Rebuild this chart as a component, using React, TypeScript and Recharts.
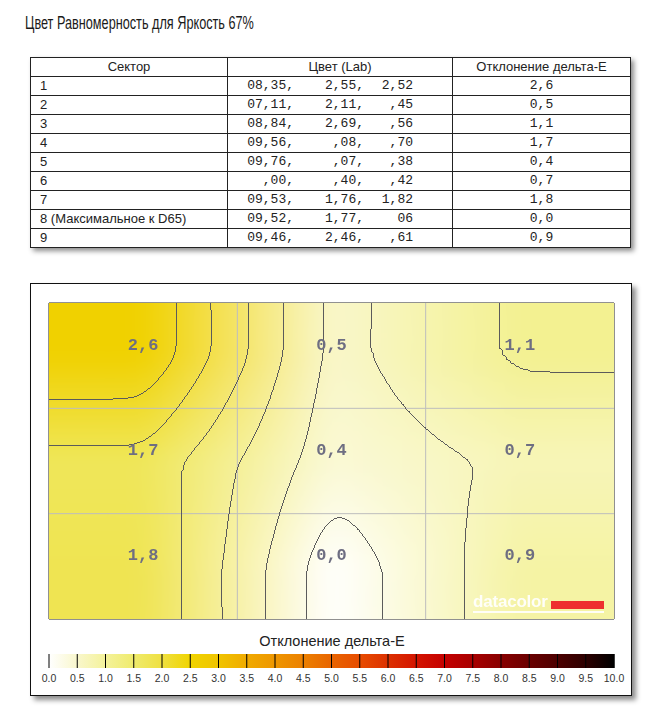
import React from 'react';
import { ScatterChart, Scatter, XAxis, YAxis, ReferenceArea } from 'recharts';

const TITLE = 'Цвет Равномерность для Яркость 67%';
const TABLE_HEADERS = ['Сектор', 'Цвет (Lab)', 'Отклонение дельта-E'];
const SECTORS = ['1', '2', '3', '4', '5', '6', '7', '8 (Максимальное к D65)', '9'];
const LAB_L = ['08,35,', '07,11,', '08,84,', '09,56,', '09,76,', ',00,', '09,53,', '09,52,', '09,46,'];
const LAB_A = ['2,55,', '2,11,', '2,69,', ',08,', ',07,', ',40,', '1,76,', '1,77,', '2,46,'];
const LAB_B = ['2,52', ',45', ',56', ',70', ',38', ',42', '1,82', '06', ',61'];
const DELTA_E = [2.6, 0.5, 1.1, 1.7, 0.4, 0.7, 1.8, 0.0, 0.9];
const GRID_COLS = 3;
const GRID_ROWS = 3;
const LEGEND_TITLE = 'Отклонение дельта-E';
const LEGEND_TICKS = [0, 0.5, 1, 1.5, 2, 2.5, 3, 3.5, 4, 4.5, 5, 5.5, 6, 6.5, 7, 7.5, 8, 8.5, 9, 9.5, 10];
const SCALE_COLORS = [
  '#ffffff', '#f9f7cc', '#f4f29a', '#efeb6c', '#efe040', '#f0d400', '#f0c400',
  '#f0aa00', '#ee9600', '#ec8000', '#e86400', '#e84c00', '#dc3000', '#d41400',
  '#c40000', '#a80000', '#880000', '#6a0000', '#4c0000', '#2c0000', '#000000',
];
const WATERMARK = 'datacolor';

const SANS = "'Liberation Sans', Arial, sans-serif";
const MONO = "'Liberation Mono', 'Courier New', monospace";

const fmtComma = (v: number) => v.toFixed(1).replace('.', ',');

const hexToRgb = (h: string) => [1, 3, 5].map((i) => parseInt(h.slice(i, i + 2), 16));
const colorFor = (v: number) => {
  const t = Math.max(0, Math.min(10, v)) / 0.5;
  const i = Math.min(SCALE_COLORS.length - 2, Math.floor(t));
  const f = t - i;
  const a = hexToRgb(SCALE_COLORS[i]);
  const b = hexToRgb(SCALE_COLORS[i + 1]);
  const c = a.map((x, k) => Math.round(x + (b[k] - x) * f));
  return `rgb(${c[0]},${c[1]},${c[2]})`;
};
// value encoded as gray: contour levels (~0.23, 0.63, ... 2.23) fall on k/7
const grayFor = (v: number) => {
  const g = Math.round(Math.max(0, Math.min(1, (v + 0.17) / 2.8)) * 255);
  return `rgb(${g},${g},${g})`;
};

const cellValue = (r: number, c: number) => DELTA_E[r * GRID_COLS + c];
const cells = DELTA_E.map((v, i) => ({
  x: (i % GRID_COLS) + 0.5,
  y: Math.floor(i / GRID_COLS) + 0.5,
  v,
}));

// patches spanning between neighbouring cell centres (edges hold the edge cell value)
const clampI = (i: number, n: number) => Math.max(0, Math.min(n - 1, i));
const xb = [0, ...cells.slice(0, GRID_COLS).map((c) => c.x), GRID_COLS];
const yb = [0, ...cells.filter((_, i) => i % GRID_COLS === 0).map((c) => c.y), GRID_ROWS];
const patches: any[] = [];
for (let qj = 0; qj < yb.length - 1; qj++) {
  for (let qi = 0; qi < xb.length - 1; qi++) {
    const cl = clampI(qi - 1, GRID_COLS);
    const cr = clampI(qi, GRID_COLS);
    const rt = clampI(qj - 1, GRID_ROWS);
    const rb = clampI(qj, GRID_ROWS);
    patches.push({
      k: patches.length,
      qi,
      qj,
      x: (xb[qi] + xb[qi + 1]) / 2,
      y: (yb[qj] + yb[qj + 1]) / 2,
      dw: xb[qi + 1] - xb[qi],
      dh: yb[qj + 1] - yb[qj],
      tl: cellValue(rt, cl),
      tr: cellValue(rt, cr),
      bl: cellValue(rb, cl),
      br: cellValue(rb, cr),
    });
  }
}
const gridV = [1, 2].map((x) => ({ x, y: GRID_ROWS / 2 }));
const gridH = [1, 2].map((y) => ({ x: GRID_COLS / 2, y }));
const legendSegments = LEGEND_TICKS.slice(0, -1).map((t, i) => ({ x: t + 0.25, y: 0.5, i }));
const legendTickPts = LEGEND_TICKS.map((t) => ({ x: t, y: 0.5 }));

// plot geometry (pixels)
const PLOT_W = 565;
const PLOT_H = 316;
const CELL_W = PLOT_W / GRID_COLS;
const CELL_H = PLOT_H / GRID_ROWS;
const EXT = 70;
const SEG_W = PLOT_W / 20;
const SEG_H = 14;

const patchShape = (prefix: string, fillFn: (v: number) => string) => (p: any) => {
  const { cx, cy, payload: q } = p;
  const w = q.dw * CELL_W;
  const h = q.dh * CELL_H;
  let x0 = cx - w / 2 - 0.5;
  let x1 = cx + w / 2 + 0.5;
  let y0 = cy - h / 2 - 0.5;
  let y1 = cy + h / 2 + 0.5;
  if (q.qi === 0) x0 -= EXT;
  if (q.qi === xb.length - 2) x1 += EXT;
  if (q.qj === 0) y0 -= EXT;
  if (q.qj === yb.length - 2) y1 += EXT;
  const idT = `${prefix}t${q.k}`;
  const idB = `${prefix}b${q.k}`;
  return (
    <g>
      <defs>
        <linearGradient id={idT} x1="0" y1="0" x2="1" y2="0">
          <stop offset="0" stopColor={fillFn(q.tl)} />
          <stop offset="1" stopColor={fillFn(q.tr)} />
        </linearGradient>
        <linearGradient id={idB} x1="0" y1="0" x2="1" y2="0">
          <stop offset="0" stopColor={fillFn(q.bl)} />
          <stop offset="1" stopColor={fillFn(q.br)} />
        </linearGradient>
      </defs>
      <rect x={x0} y={y0} width={x1 - x0} height={y1 - y0} fill={`url(#${idT})`} />
      <rect x={x0} y={y0} width={x1 - x0} height={y1 - y0} fill={`url(#${idB})`} mask="url(#vmask)" />
    </g>
  );
};

const labelShape = (p: any) => (
  <text
    x={p.cx}
    y={p.cy - 12}
    dy="0.36em"
    textAnchor="middle"
    fontFamily={MONO}
    fontWeight="bold"
    fontSize={17}
    fill="#6e6e82"
  >
    {fmtComma(p.payload.v)}
  </text>
);

const vLineShape = (len: number, color: string) => (p: any) => (
  <line x1={p.cx} x2={p.cx} y1={p.cy - len / 2} y2={p.cy + len / 2} stroke={color} strokeWidth={1} />
);
const hLineShape = (len: number, color: string) => (p: any) => (
  <line x1={p.cx - len / 2} x2={p.cx + len / 2} y1={p.cy} y2={p.cy} stroke={color} strokeWidth={1} />
);

const segShape = (p: any) => (
  <rect x={p.cx - SEG_W / 2} y={p.cy - SEG_H / 2} width={SEG_W + 0.5} height={SEG_H} fill={`url(#seg${p.payload.i})`} />
);

const CSS = `
.heat-color { filter: url(#heatSmooth); clip-path: url(#heatClip); }
.heat-contour { filter: url(#heatContour); clip-path: url(#heatClip); }
#heatContour, #heatContour *, #heatSmooth, #heatSmooth * { color-interpolation-filters: sRGB; }
`;

export default function App() {
  const cellBase: React.CSSProperties = {
    border: '1px solid #222',
    height: 18,
    padding: 0,
    fontWeight: 'normal',
    fontFamily: SANS,
    fontSize: 13,
    color: '#222',
    lineHeight: '18px',
  };
  const cif = { colorInterpolationFilters: 'sRGB' } as any;
  return (
    <div style={{ position: 'absolute', left: 0, top: 0, width: 651, height: 718, background: '#fff', overflow: 'hidden' }}>
      <style>{CSS}</style>
      <svg width={1} height={1} style={{ position: 'absolute', left: 0, top: 0 }}>
        <defs>
          <clipPath id="heatClip" clipPathUnits="userSpaceOnUse">
            <rect x={49} y={20} width={PLOT_W} height={PLOT_H} />
          </clipPath>
          <linearGradient id="vgrad" x1="0" y1="0" x2="0" y2="1">
            <stop offset="0" stopColor="#000" />
            <stop offset="1" stopColor="#fff" />
          </linearGradient>
          <mask id="vmask" maskContentUnits="objectBoundingBox" x="-0.05" y="-0.05" width="1.1" height="1.1">
            <rect x="0" y="0" width="1" height="1" fill="url(#vgrad)" />
          </mask>
          <filter id="heatSmooth" filterUnits="userSpaceOnUse" x={-150} y={-150} width={1000} height={700} colorInterpolationFilters="sRGB" style={cif}>
            <feGaussianBlur stdDeviation="14 9" colorInterpolationFilters="sRGB" style={cif} />
          </filter>
          <filter id="heatContour" filterUnits="userSpaceOnUse" x={-150} y={-150} width={1000} height={700} colorInterpolationFilters="sRGB" style={cif}>
            <feGaussianBlur in="SourceGraphic" stdDeviation="14 9" result="s" colorInterpolationFilters="sRGB" style={cif} />
            <feComponentTransfer in="s" result="q" colorInterpolationFilters="sRGB" style={cif}>
              <feFuncR type="discrete" tableValues="0 1 0 1 0 1 0" />
              <feFuncA type="linear" slope={0} intercept={1} />
            </feComponentTransfer>
            <feConvolveMatrix in="q" order="3" kernelMatrix="0 -1 0 -1 4 -1 0 -1 0" divisor={1} bias={0} preserveAlpha="true" result="e" colorInterpolationFilters="sRGB" style={cif} />
            <feColorMatrix in="e" type="matrix" values="0 0 0 0 0.36  0 0 0 0 0.36  0 0 0 0 0.36  0.8 0 0 0 0" result="c" colorInterpolationFilters="sRGB" style={cif} />
            <feGaussianBlur in="c" stdDeviation="0.45" result="cb" colorInterpolationFilters="sRGB" style={cif} />
            <feComponentTransfer in="cb" colorInterpolationFilters="sRGB" style={cif}>
              <feFuncA type="linear" slope={1.7} intercept={0} />
            </feComponentTransfer>
          </filter>
          {SCALE_COLORS.slice(0, -1).map((c, i) => (
            <linearGradient key={i} id={`seg${i}`} x1="0" y1="0" x2="1" y2="0">
              <stop offset="0" stopColor={c} />
              <stop offset="1" stopColor={SCALE_COLORS[i + 1]} />
            </linearGradient>
          ))}
        </defs>
      </svg>

      <div
        style={{
          position: 'absolute',
          left: 25,
          top: 12,
          fontFamily: SANS,
          fontSize: 17.5,
          color: '#1a1a1a',
          whiteSpace: 'nowrap',
          lineHeight: '22px',
          transform: 'scaleX(0.725)',
          transformOrigin: '0 0',
        }}
      >
        {TITLE}
      </div>

      <table
        style={{
          position: 'absolute',
          left: 30,
          top: 57,
          width: 600,
          borderCollapse: 'collapse',
          tableLayout: 'fixed',
          boxShadow: '3px 3px 5px rgba(0,0,0,0.45)',
          background: '#fff',
        }}
      >
        <colgroup>
          <col style={{ width: 197 }} />
          <col style={{ width: 225 }} />
          <col style={{ width: 178 }} />
        </colgroup>
        <thead>
          <tr>
            {TABLE_HEADERS.map((h) => (
              <th key={h} style={{ ...cellBase, textAlign: 'center' }}>{h}</th>
            ))}
          </tr>
        </thead>
        <tbody>
          {SECTORS.map((s, i) => (
            <tr key={i}>
              <td style={{ ...cellBase, paddingLeft: 9, whiteSpace: 'nowrap' }}>{s}</td>
              <td style={{ ...cellBase, fontFamily: MONO, whiteSpace: 'pre' }}>
                <span style={{ display: 'inline-block', width: 66, textAlign: 'right' }}>{LAB_L[i]}</span>
                <span style={{ display: 'inline-block', width: 70, textAlign: 'right' }}>{LAB_A[i]}</span>
                <span style={{ display: 'inline-block', width: 49, textAlign: 'right' }}>{LAB_B[i]}</span>
              </td>
              <td style={{ ...cellBase, fontFamily: MONO, textAlign: 'center' }}>{fmtComma(DELTA_E[i])}</td>
            </tr>
          ))}
        </tbody>
      </table>

      <div
        style={{
          position: 'absolute',
          left: 30,
          top: 283,
          width: 602,
          height: 413,
          boxSizing: 'border-box',
          border: '1px solid #111',
          boxShadow: '4px 4px 5px rgba(0,0,0,0.45)',
          background: '#fff',
        }}
      />

      <div style={{ position: 'absolute', left: 0, top: 283 }}>
        <ScatterChart width={651} height={340} margin={{ top: 20, right: 37, bottom: 4, left: 49 }}>
          <XAxis type="number" dataKey="x" domain={[0, 3]} hide />
          <YAxis type="number" dataKey="y" domain={[0, 3]} reversed hide />
          <Scatter data={patches} className="heat-color" shape={patchShape('pc', colorFor)} isAnimationActive={false} />
          <Scatter data={gridV} shape={vLineShape(PLOT_H, '#bdbdbd')} isAnimationActive={false} />
          <Scatter data={gridH} shape={hLineShape(PLOT_W, '#bdbdbd')} isAnimationActive={false} />
          <Scatter data={patches} className="heat-contour" shape={patchShape('pg', grayFor)} isAnimationActive={false} />
          <Scatter data={cells} shape={labelShape} isAnimationActive={false} />
          <ReferenceArea x1={0} x2={3} y1={0} y2={3} fill="none" fillOpacity={0} stroke="#222" strokeWidth={1} strokeOpacity={1} />
        </ScatterChart>
      </div>

      <div style={{ position: 'absolute', left: 473, top: 592, width: 131, height: 22 }}>
        <div style={{ position: 'absolute', left: 0, top: 0, fontFamily: SANS, fontWeight: 'bold', fontSize: 17, color: 'rgba(255,255,255,0.92)', lineHeight: '20px', letterSpacing: -0.2 }}>
          {WATERMARK}
        </div>
        <div style={{ position: 'absolute', left: 78, top: 9, width: 53, height: 8, background: '#ee2f2f' }} />
        <div style={{ position: 'absolute', left: 0, top: 19, width: 131, height: 1.5, background: 'rgba(255,255,255,0.9)' }} />
      </div>

      <div style={{ position: 'absolute', left: 0, top: 631, width: 664, textAlign: 'center', fontFamily: SANS, fontSize: 14.5, color: '#222', lineHeight: '20px' }}>
        {LEGEND_TITLE}
      </div>

      <div style={{ position: 'absolute', left: 0, top: 630 }}>
        <ScatterChart width={651} height={60} margin={{ top: 24, right: 37, bottom: 0, left: 49 }}>
          <XAxis
            type="number"
            dataKey="x"
            domain={[0, 10]}
            ticks={LEGEND_TICKS}
            interval={0}
            tickFormatter={(t: number) => t.toFixed(1)}
            axisLine={false}
            tickLine={false}
            tickMargin={1}
            height={22}
            tick={{ fontSize: 10.5, fill: '#333', fontFamily: SANS }}
          />
          <YAxis type="number" dataKey="y" domain={[0, 1]} hide />
          <Scatter data={legendSegments} shape={segShape} isAnimationActive={false} />
          <Scatter data={legendTickPts} shape={vLineShape(SEG_H, '#000')} isAnimationActive={false} />
        </ScatterChart>
      </div>
    </div>
  );
}
